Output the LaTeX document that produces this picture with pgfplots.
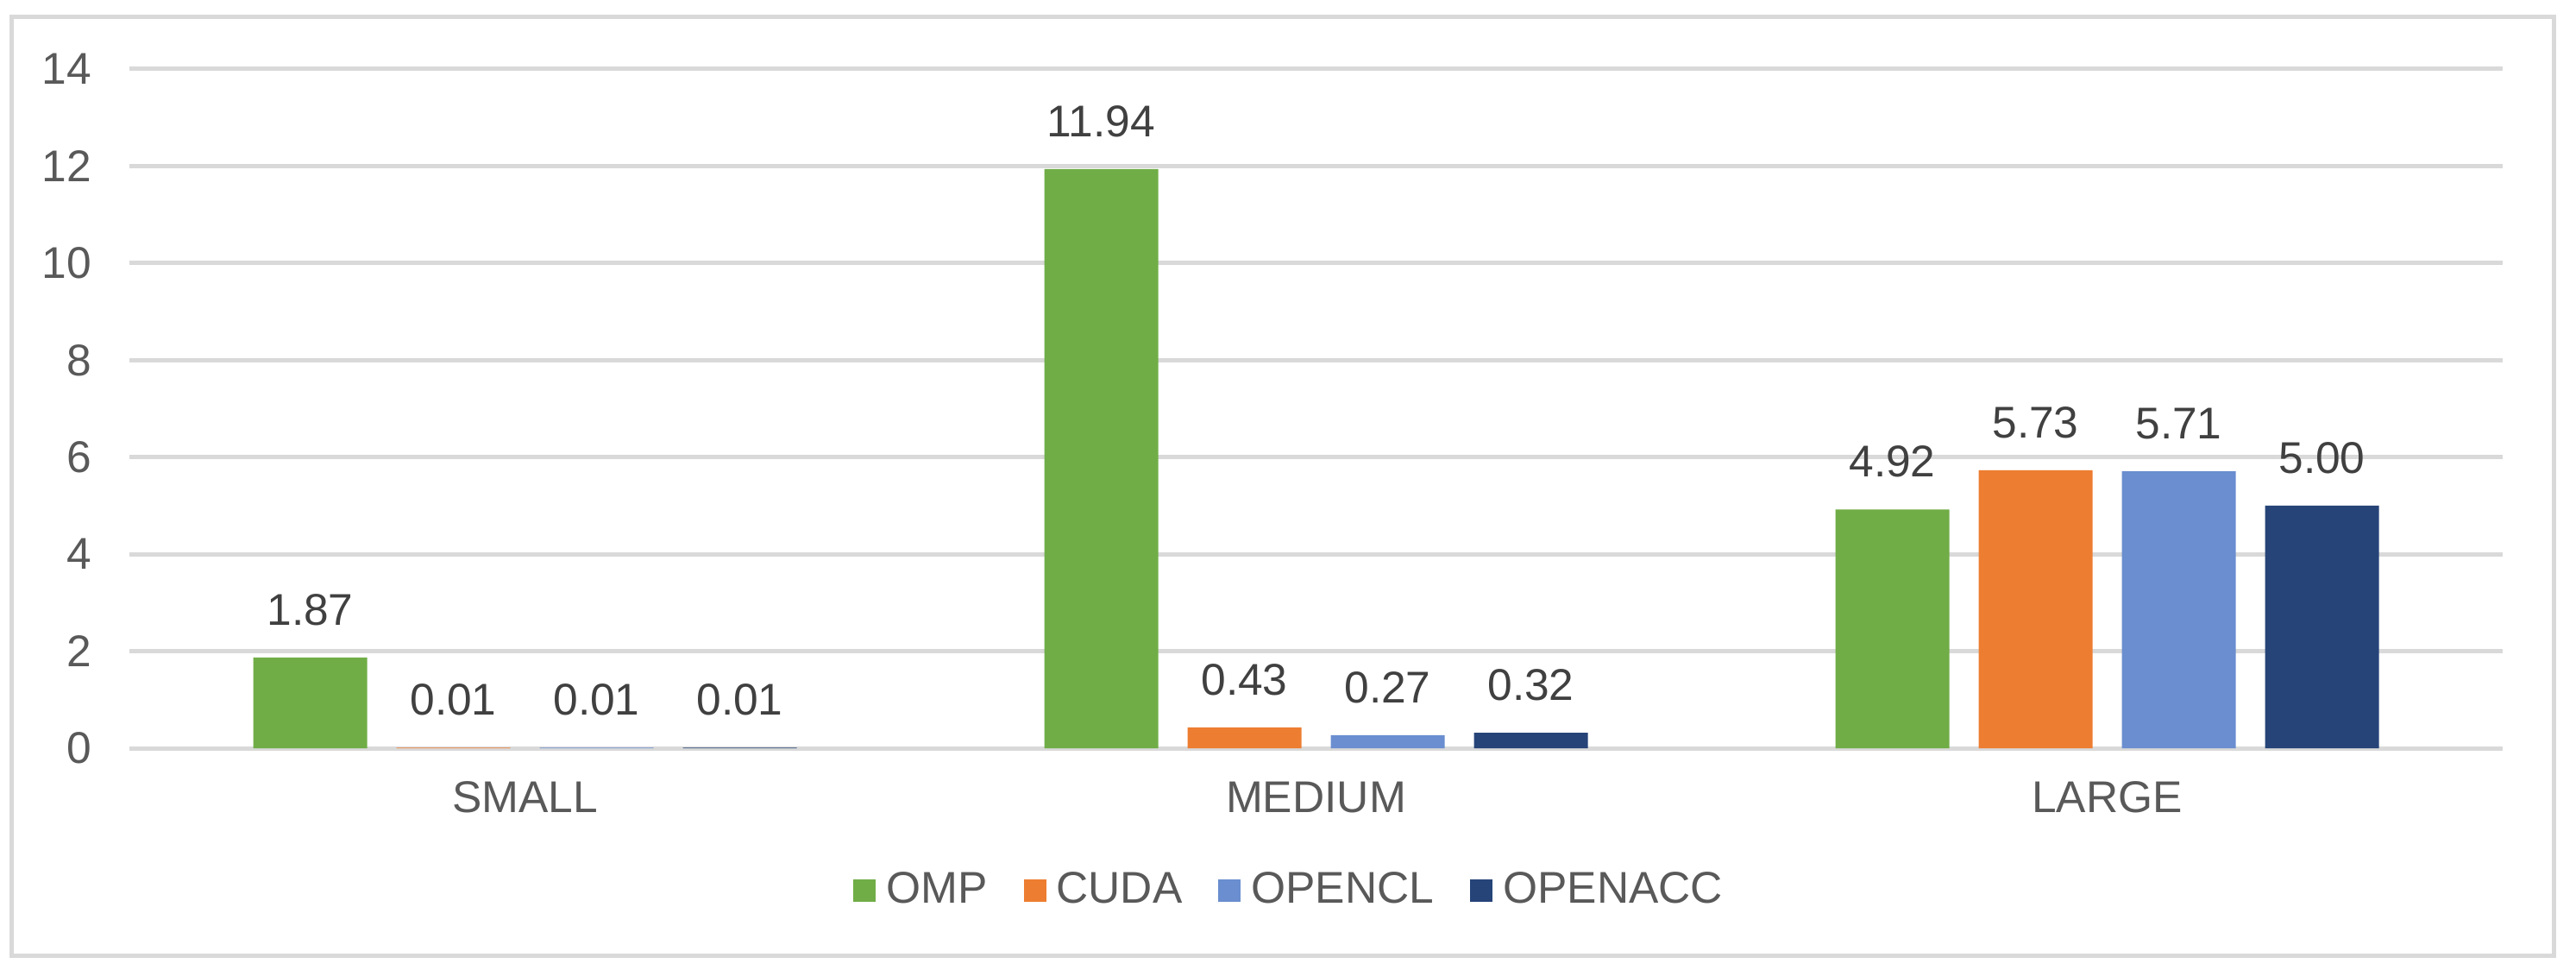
\documentclass[border=0pt]{standalone}
\usepackage{fontspec}
\setmainfont{Liberation Sans}
\usepackage{pgfplots}
\pgfplotsset{compat=1.18}
\definecolor{gridgray}{HTML}{D9D9D9}
\definecolor{ticktext}{HTML}{595959}
\definecolor{labeltext}{HTML}{404040}
\definecolor{ompgreen}{HTML}{70AD47}
\definecolor{cudaorange}{HTML}{ED7D31}
\definecolor{oclblue}{HTML}{6A8ECF}
\definecolor{accnavy}{HTML}{264478}
\newcommand{\chartfont}{\fontsize{10.3pt}{12pt}\selectfont}

\begin{document}
\begin{tikzpicture}
  % page extent and outer chart frame
  \path (-30pt,-51.4pt) rectangle (567.2pt,173.4pt);
  \draw[gridgray,line width=1pt] (-27.2pt,-48pt) rectangle (562pt,169.4pt);
  \begin{axis}[
    at={(0,0)},anchor=south west,
    scale only axis,width=550.2pt,height=157.4pt,
    ybar=6.8pt,bar width=26.4pt,
    xmin=-0.5,xmax=2.5,ymin=0,ymax=14,
    xtick={0,1,2},xticklabels={SMALL,MEDIUM,LARGE},
    ytick={0,2,...,14},
    axis line style={draw=none},tick style={draw=none},
    major tick length=0pt,
    ymajorgrids,grid style={gridgray,line width=1pt},
    /pgf/number format/assume math mode=true,
    yticklabel style={font=\chartfont,text=ticktext,anchor=east,inner sep=0pt,xshift=-8.6pt},
    xticklabel style={font=\chartfont,text=ticktext,anchor=north,inner sep=0pt,yshift=-7.6pt},
    nodes near coords,
    nodes near coords style={font=\chartfont,text=labeltext,anchor=south,inner sep=0pt,yshift=7.2pt,
      /pgf/number format/.cd,fixed,fixed zerofill,precision=2,assume math mode=true},
    legend columns=4,
    legend style={at={(0.4893,-0.2097)},anchor=center,draw=none,fill=none,
      font=\chartfont,text=ticktext,nodes={inner sep=1.2pt},
      /tikz/every odd column/.append style={column sep=1.2pt},
      /tikz/every even column/.append style={column sep=7.2pt}},
    legend image code/.code={\fill[#1] (0pt,-2.6pt) rectangle (5.2pt,2.6pt);},
  ]
    \addplot[fill=ompgreen,draw=none] coordinates {(0,1.87) (1,11.94) (2,4.92)};
    \addplot[fill=cudaorange,draw=none] coordinates {(0,0.01) (1,0.43) (2,5.73)};
    \addplot[fill=oclblue,draw=none] coordinates {(0,0.01) (1,0.27) (2,5.71)};
    \addplot[fill=accnavy,draw=none] coordinates {(0,0.01) (1,0.32) (2,5.00)};
    \legend{OMP,CUDA,OPENCL,OPENACC}
  \end{axis}
\end{tikzpicture}
\end{document}
